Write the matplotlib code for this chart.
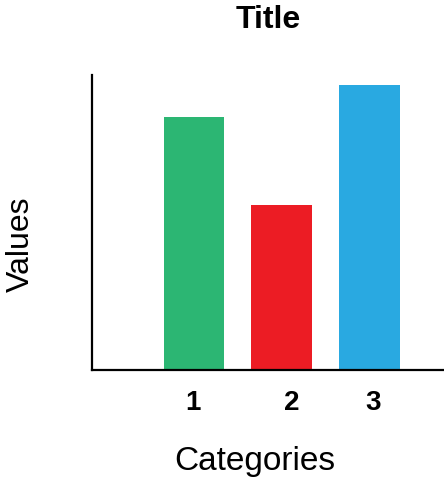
import matplotlib
matplotlib.use("Agg")
import matplotlib.pyplot as plt

# data
categories = [1, 2, 3]
values = [8.0, 5.2, 9.0]
tick_labels = ["1", "2", "3"]
colors = ["#2cb673", "#ec1c24", "#29a9e1"]

plt.rcParams['font.family'] = ['Liberation Sans', 'DejaVu Sans']

fig = plt.figure(figsize=(4.44, 4.8), dpi=100)
ax = fig.add_axes([92/444, 110/480, 352/444, 295/480])

ax.bar(categories, values, width=0.69, color=colors)

ax.set_xlim(-0.16, 3.85)
ax.set_ylim(0, 9.32)

# tick labels are slightly offset from bar centres in the reference
label_shift = [-0.01, 0.11, 0.04]
ax.set_xticks([c + s for c, s in zip(categories, label_shift)])
ax.set_xticklabels(tick_labels, fontsize=20, fontweight='bold')
ax.set_yticks([])
ax.tick_params(axis='x', length=0, pad=14.5)

for s in ['top', 'right']:
    ax.spines[s].set_visible(False)
for s in ['left', 'bottom']:
    ax.spines[s].set_linewidth(1.6)
    ax.spines[s].set_color('black')

ax.set_title("Title", fontsize=23, fontweight='bold', pad=34)
ax.set_xlabel("Categories", fontsize=24)
ax.set_ylabel("Values", fontsize=23)
ax.xaxis.set_label_coords(0.463, -0.258)
ax.yaxis.set_label_coords(-0.16, 0.425)

fig.savefig("out.png", dpi=100)
